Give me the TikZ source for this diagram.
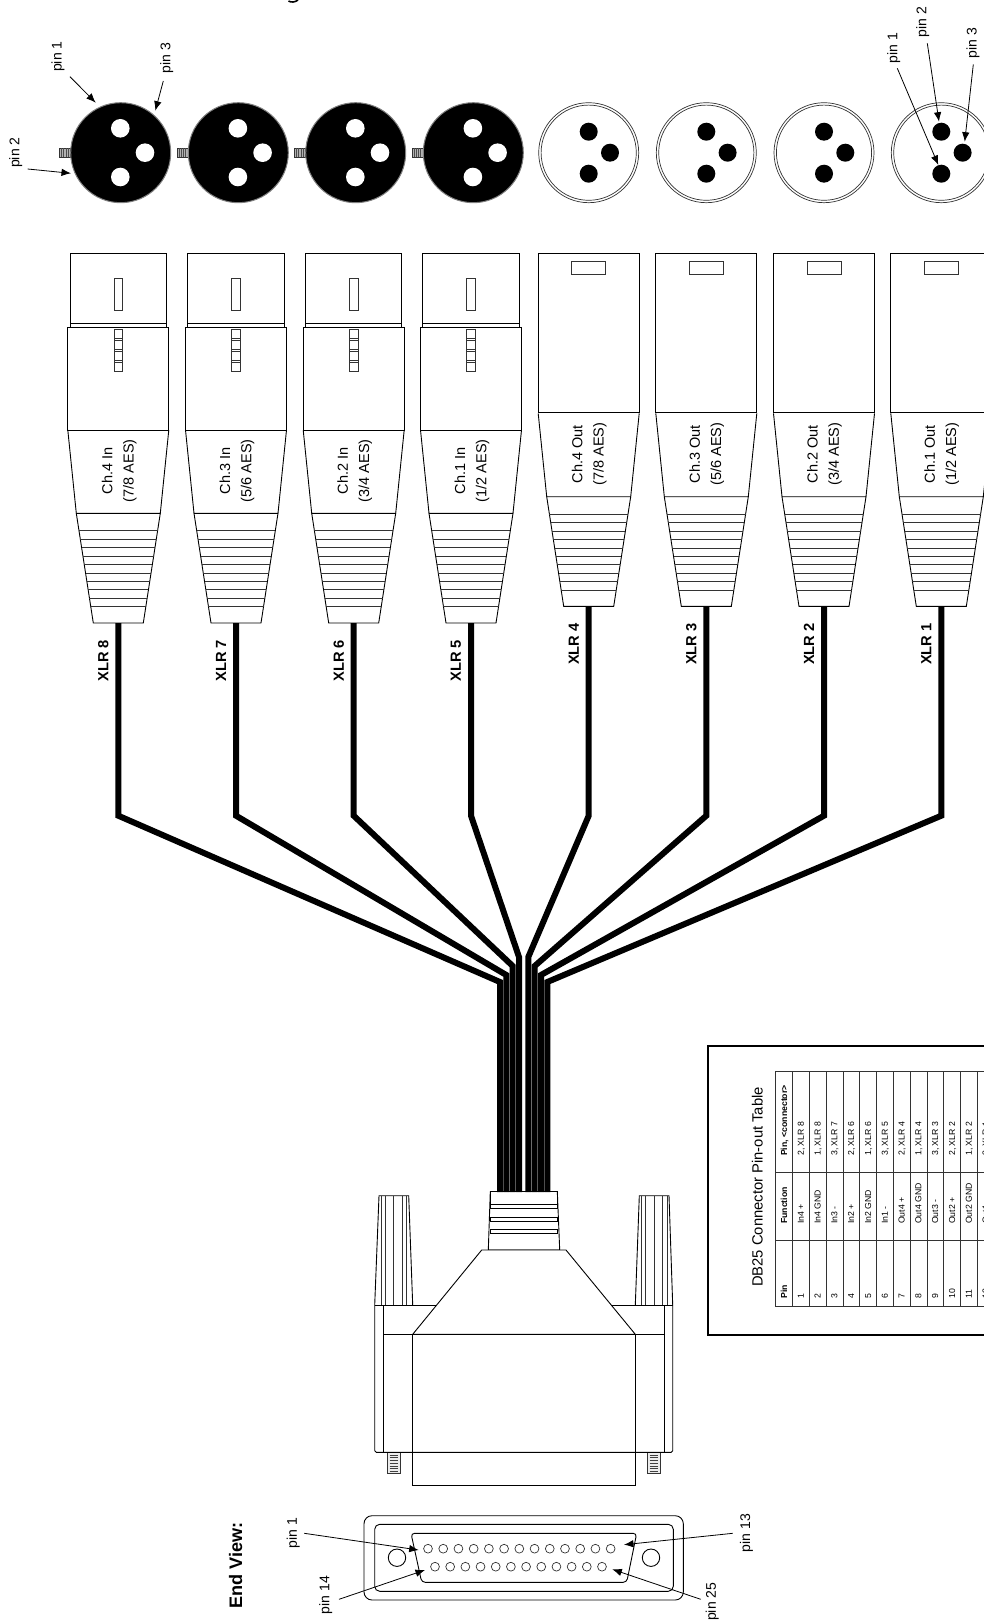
\documentclass[tikz,border=0pt]{standalone}
\usepackage{fontspec}
\setmainfont{Liberation Sans}
\usetikzlibrary{arrows.meta}

\begin{document}
\begin{tikzpicture}
	[x=1pt,y=-1pt,
	part/.style={line width=.9pt,black},
	thin_part/.style={line width=.7pt,black!80},
	cable/.style={line width=6pt,black,line join=miter},
	pinarrow/.style={line width=.8pt,black,-{Latex[length=9.5pt,width=7.5pt]}},
	pinlabel/.style={rotate=90,inner sep=0pt,font=\fontsize{14}{16}\selectfont},
	chlabel/.style={rotate=90,inner sep=0pt,align=center,font=\fontsize{14.5}{21.3}\selectfont},
	xlrlabel/.style={rotate=90,inner sep=0pt,font=\fontsize{14.7}{16}\selectfont\bfseries},
	cell/.style={rotate=90,anchor=base west,inner sep=0pt,font=\fontsize{8.7}{10}\selectfont}]
	\useasboundingbox (0,0) rectangle (984,1621);
	% tail of the cut off title
	\draw[line width=1.6pt] (288.5,1) .. controls (291,2.6) and (295,2.4) .. (298,0);

	% panel views
	\foreach \cx in {120.7,238.3,355.7,473.3}{
		\draw[thin_part,fill=gray!60] (\cx-61.4,148.3) rectangle (\cx-50,157.3);
		\foreach \i in {1,...,4}
			\draw[line width=.5pt,black!70] (\cx-61.4+2.2*\i,148.3) -- (\cx-61.4+2.2*\i,157.3);
		\draw[line width=1pt,gray,fill=black] (\cx,152.7) circle (50);
		\fill[white] (\cx-.4,128.3) circle (9.3) (\cx+24.3,152.7) circle (9.3) (\cx-.4,177) circle (9.3);
	}
	\foreach \cx in {588.7,706.3,824,941.3}{
		\draw[thin_part] (\cx,152.7) circle (50) circle (47.6);
		\fill (\cx,131.7) circle (9) (\cx+21.3,152.7) circle (9) (\cx,173.7) circle (9);
	}
	% pin callouts
	\foreach \name/\txt/\lx/\ly/\sx/\sy/\ex/\ey in {
		inpinA/pin 1/58/56.7/70/76.7/95.7/102.7,
		inpinB/pin 2/15.7/152.7/27.7/169/71/173.3,
		inpinC/pin 3/166.7/58/163.3/81/155.3/110.7,
		outpinA/pin 1/893.7/48.3/897.3/68.3/938.3/165,
		outpinB/pin 2/922.7/22/927.3/43.3/939/121.7,
		outpinC/pin 3/973/43.3/973.3/64.3/964.7/141.7,
		endpinA/pin 1/293.3/1533.3/304.3/1533.3/418.7/1550,
		endpinN/pin 14/325.7/1595/339/1599.3/425/1570,
		endpinM/pin 13/746.5/1533/732.7/1533.3/624/1544.7,
		endpinY/pin 25/712.3/1601.7/700.7/1599.3/612.3/1569.3}{
		\node[pinlabel] (\name) at (\lx,\ly) {\txt};
		\coordinate (\name from) at (\sx,\sy);
		\coordinate (\name to) at (\ex,\ey);
	}

	% cables
	\foreach \cx/\dy/\bx/\jy in {118.3/0/500/982,236/0/506.3/975,353.7/0/512.7/966,471/0/519/957,
		588.7/-16.6/528.3/957,706.3/-16.6/534.7/966,824/-16.6/541/975,941.3/-16.6/547.3/982}
		\draw[cable] (\cx,623+\dy) -- (\cx,815.7) -- (\bx,\jy) -- (\bx,1192);

	% female plugs
	\foreach \cx/\n/\ch/\aes in {118.3/8/4/{7/8},236/7/3/{5/6},353.7/6/2/{3/4},471/5/1/{1/2}}{
		\draw[part] (\cx-48.2,253.3) rectangle (\cx+48.2,323.3);
		\draw[part] (\cx-48.2,323.3) rectangle (\cx+48.2,327);
		\draw[part] (\cx-50.5,327) rectangle (\cx+50.5,430);
		\draw[thin_part] (\cx-4.3,278.3) rectangle (\cx+4.3,310.3);
		\draw[thin_part] (\cx-4.3,329) rectangle (\cx+4.3,371);
		\foreach \yy in {338,340,349.3,351.3,360,362.3}
			\draw[thin_part] (\cx-4.3,\yy) -- (\cx+4.3,\yy);
		\node[chlabel] (chin\ch) at (\cx+1,470.7) {Ch.\ch\ In\\(\aes\ AES)};
		\node[xlrlabel] (xlr\n) at (\cx-15,660.7) {XLR \n};
	}
	% male plugs
	\foreach \cx/\n/\aes in {588.7/4/{7/8},706.3/3/{5/6},824/2/{3/4},941.3/1/{1/2}}{
		\draw[part] (\cx-50.5,253.3) rectangle (\cx+50.5,412.7);
		\draw[thin_part] (\cx-17,261.7) rectangle (\cx+17,274.7);
		\node[chlabel] (chout\n) at (\cx+.5,454) {Ch.\n\ Out\\(\aes\ AES)};
		\node[xlrlabel] (xlr\n) at (\cx-15,644) {XLR \n};
	}
	% boots
	\foreach \cx/\dy in {118.3/0,236/0,353.7/0,471/0,588.7/-16.6,706.3/-16.6,824/-16.6,941.3/-16.6}{
		\draw[part] (\cx-50.5,430+\dy) -- (\cx-42,513.3+\dy) -- (\cx+42,513.3+\dy) -- (\cx+50.5,430+\dy);
		\draw[part] (\cx-42,513.3+\dy) -- (\cx-25,623+\dy) -- (\cx+25,623+\dy) -- (\cx+42,513.3+\dy);
		\foreach \i in {0,...,9}{
			\pgfmathsetmacro\hw{42-.155*(8.44*\i+17.4)}
			\draw[thin_part] (\cx-\hw,530.7+8.44*\i+\dy) -- (\cx+\hw,530.7+8.44*\i+\dy);
		}
	}

	% DB25 hood
	\draw[part] (490.3,1191.3) rectangle (557.3,1204.3);
	\draw[part] (490.3,1204.3) rectangle (557.3,1208.7);
	\draw[part] (490.3,1217) rectangle (557.3,1221);
	\draw[part] (490.3,1229.3) rectangle (557.3,1233.3);
	\draw[part] (490.3,1191.3) -- (488.3,1250) -- (559.7,1250) -- (557.3,1191.3);
	% thumb screws
	\draw[part] (374.7,1305) -- (379,1195.7) -- (408.7,1195.7) -- (412.7,1305);
	\draw[part] (635.3,1305) -- (639.3,1195.7) -- (669,1195.7) -- (672.7,1305);
	\foreach \xx in {381,385.7,393.7,402.3,406.7,641.7,645.7,654.7,662.7,667.3}
		\draw[thin_part] (\xx,1195.7) -- (\xx,1305);
	% screw tips
	\foreach \xx in {387.3,647.3}{
		\draw[thin_part,fill=gray!15] (\xx,1452.3) rectangle (\xx+13,1473.3);
		\foreach \i in {0,...,6}
			\draw[line width=.6pt,black!75] (\xx+2.2,1455+2.75*\i) -- (\xx+10.8,1455+2.75*\i);
	}
	% flange
	\draw[part,rounded corners=1.5pt] (374.7,1305) -- (374.7,1452.3) -- (672.7,1452.3) -- (672.7,1305);
	\draw[part] (374.7,1305) -- (436.7,1305) (610.7,1305) -- (672.7,1305);
	\draw[part] (383.3,1305) -- (383.3,1452.3) (664.7,1305) -- (664.7,1452.3);
	\draw[part] (383.3,1334.3) -- (664.7,1334.3);
	\draw[part,fill=white] (481.7,1250) -- (566,1250) -- (635.3,1334.3) -- (412.7,1334.3) -- cycle;
	\draw[part] (412.7,1334.3) rectangle (635.3,1485.3);
	\draw[part] (412.7,1452.3) -- (635.3,1452.3);

	% end view
	\node[rotate=90,inner sep=0pt,font=\fontsize{18.1}{20}\selectfont\bfseries] (endview) at (235.7,1565.7) {End View:};
	\draw[part,rounded corners=8pt] (364,1515.7) rectangle (683.3,1600);
	\draw[part,rounded corners=5pt] (374.7,1524.3) rectangle (673.3,1591.3);
	\draw[part,rounded corners=3.5pt] (411,1533.3) -- (636.7,1533.3) -- (626.7,1582.3) -- (421.7,1582.3) -- cycle;
	\draw[part] (397,1557.7) circle (8.7) (651,1557.7) circle (8.7);
	\foreach \i in {0,...,12}
		\draw[thin_part] (428+15.22*\i,1548.7) circle (4.4);
	\foreach \i in {0,...,11}
		\draw[thin_part] (435+15.18*\i,1566.7) circle (4.4);
	\foreach \name in {inpinA,inpinB,inpinC,outpinA,outpinB,outpinC,endpinA,endpinN,endpinM,endpinY}
		\draw[pinarrow] (\name from) -- (\name to);

	% pin-out table, cut off by the page edge
	\begin{scope}
		\clip (0,0) rectangle (984,1621);
		\draw[line width=1.6pt] (990,1046) -- (708,1046) -- (708,1335) -- (990,1335);
		\node[rotate=90,inner sep=0pt,font=\fontsize{14.8}{17}\selectfont] (tabletitle) at (757.3,1187) {DB25 Connector Pin-out Table};
		\draw[thin_part] (990,1071.7) -- (775.7,1071.7) -- (775.7,1306.7) -- (990,1306.7);
		\draw[thin_part] (775.7,1172.7) -- (990,1172.7) (775.7,1240.7) -- (990,1240.7);
		\foreach \k in {1,...,12}
			\draw[thin_part] (775.7+16.8*\k,1071.7) -- (775.7+16.8*\k,1306.7);
		\node[cell,font=\fontsize{8.7}{10}\selectfont\bfseries] (headpin) at (787,1298.7) {Pin};
		\node[cell,font=\fontsize{8.7}{10}\selectfont\bfseries] (headfunc) at (787,1224) {Function};
		\node[cell,font=\fontsize{8.7}{10}\selectfont\bfseries] (headconn) at (787,1156) {Pin, <connector>};
		\foreach \func/\conn [count=\k] in {In4 +/{2, XLR 8},In4 GND/{1, XLR 8},In3 -/{3, XLR 7},
			In2 +/{2, XLR 6},In2 GND/{1, XLR 6},In1 -/{3, XLR 5},Out4 +/{2, XLR 4},Out4 GND/{1, XLR 4},
			Out3 -/{3, XLR 3},Out2 +/{2, XLR 2},Out2 GND/{1, XLR 2},Out1 -/{3, XLR 1}}{
			\node[cell] (pin\k) at (787+16.8*\k,1298.7) {\k};
			\node[cell] (func\k) at (787+16.8*\k,1224) {\func};
			\node[cell] (conn\k) at (787+16.8*\k,1156) {\conn};
		}
	\end{scope}
\end{tikzpicture}
\end{document}
